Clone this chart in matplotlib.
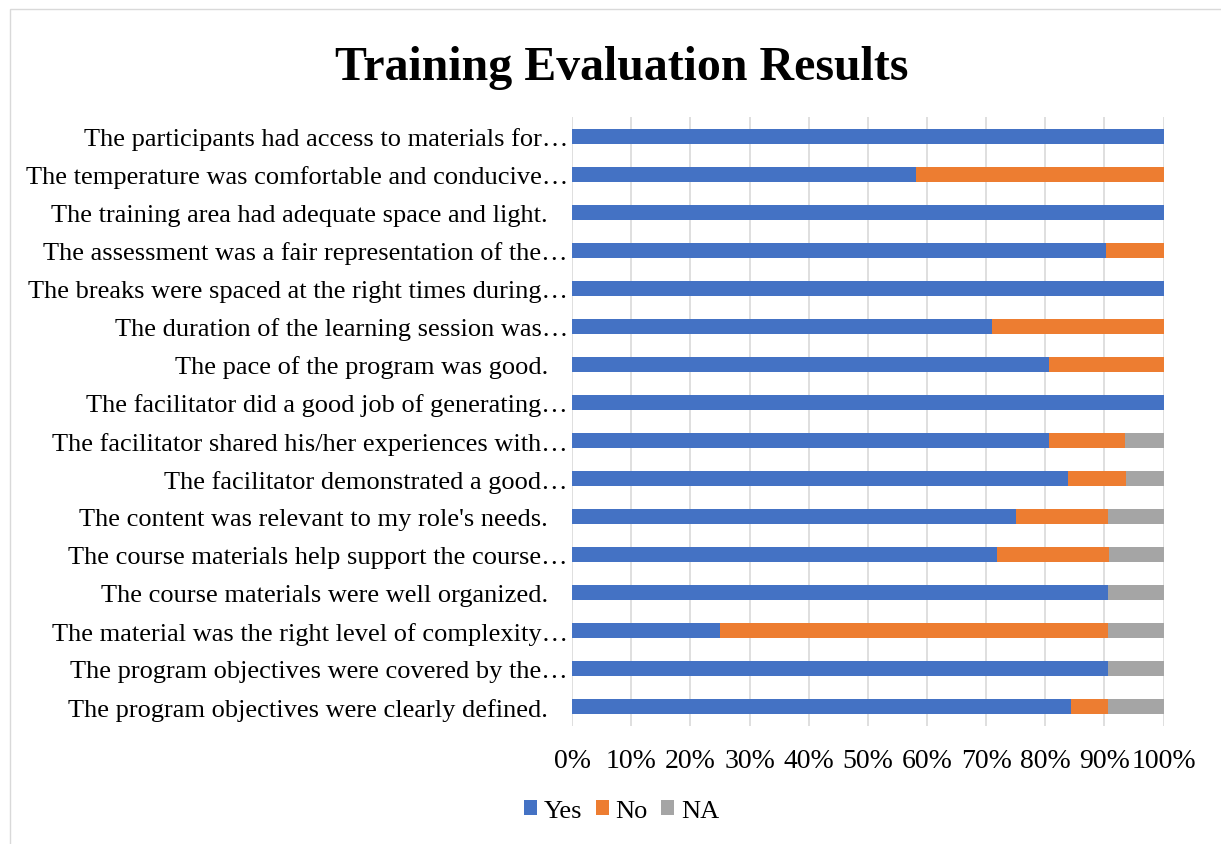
import matplotlib.pyplot as plt
from matplotlib.patches import Rectangle

plt.rcParams['font.family'] = ['Liberation Serif', 'DejaVu Serif']

# questions, top to bottom as shown (complete ones carry trailing blanks)
questions = [
    "The participants had access to materials for\u2026",
    "The temperature was comfortable and conducive\u2026",
    "The training area had adequate space and light.   ",
    "The assessment was a fair representation of the\u2026",
    "The breaks were spaced at the right times during\u2026",
    "The duration of the learning session was\u2026",
    "The pace of the program was good.   ",
    "The facilitator did a good job of generating\u2026",
    "The facilitator shared his/her experiences with\u2026",
    "The facilitator demonstrated a good\u2026",
    "The content was relevant to my role's needs.   ",
    "The course materials help support the course\u2026",
    "The course materials were well organized.   ",
    "The material was the right level of complexity\u2026",
    "The program objectives were covered by the\u2026",
    "The program objectives were clearly defined.   ",
]
yes = [100, 58.1, 100, 90.3, 100, 71.0, 80.6, 100, 80.6, 83.9, 75.0, 71.9, 90.6, 25.0, 90.6, 84.4]
no = [0, 41.9, 0, 9.7, 0, 29.0, 19.4, 0, 12.9, 9.7, 15.6, 18.8, 0, 65.6, 0, 6.2]
na = [0, 0, 0, 0, 0, 0, 0, 0, 6.5, 6.4, 9.4, 9.3, 9.4, 9.4, 9.4, 9.4]

fig = plt.figure(figsize=(12.21, 8.45), dpi=100)
ax = fig.add_axes([0.4685, 0.140, 0.4845, 0.720])

n = len(questions)
pos = list(range(n - 1, -1, -1))
left_no = yes
left_na = [a + b for a, b in zip(yes, no)]

ax.barh(pos, yes, height=0.4, color='#4472C4', label='Yes', zorder=3)
ax.barh(pos, no, left=left_no, height=0.4, color='#ED7D31', label='No', zorder=3)
ax.barh(pos, na, left=left_na, height=0.4, color='#A5A5A5', label='NA', zorder=3)

ax.set_xlim(0, 100)
ax.set_ylim(-0.5, n - 0.5)
ax.set_yticks(pos)
ax.set_yticklabels(questions, fontsize=19)
ax.set_xticks(range(0, 101, 10))
ax.set_xticklabels([f"{v}%" for v in range(0, 101, 10)], fontsize=20)
ax.tick_params(axis='both', length=0)
ax.tick_params(axis='x', pad=16)
ax.tick_params(axis='y', pad=3)
ax.grid(axis='x', color='#D9D9D9', linewidth=1.2, zorder=0)
for s in ax.spines.values():
    s.set_visible(False)

fig.text(0.509, 0.919, "Training Evaluation Results", ha='center', va='center',
         fontsize=34.5, fontweight='bold')

leg = ax.legend(loc='center', ncol=3, frameon=False, fontsize=19,
                handlelength=0.5, handleheight=0.5,
                handletextpad=0.25, columnspacing=0.5)
leg.set_bbox_to_anchor((0.509, 0.039), transform=fig.transFigure)

# chart area border, running off the right and bottom edges like the screenshot
fig.patches.append(Rectangle((0.008, -0.02), 1.05, 1.008, transform=fig.transFigure,
                             fill=False, edgecolor='#D9D9D9', linewidth=1))

plt.savefig('out.png', dpi=100)
plt.close()
